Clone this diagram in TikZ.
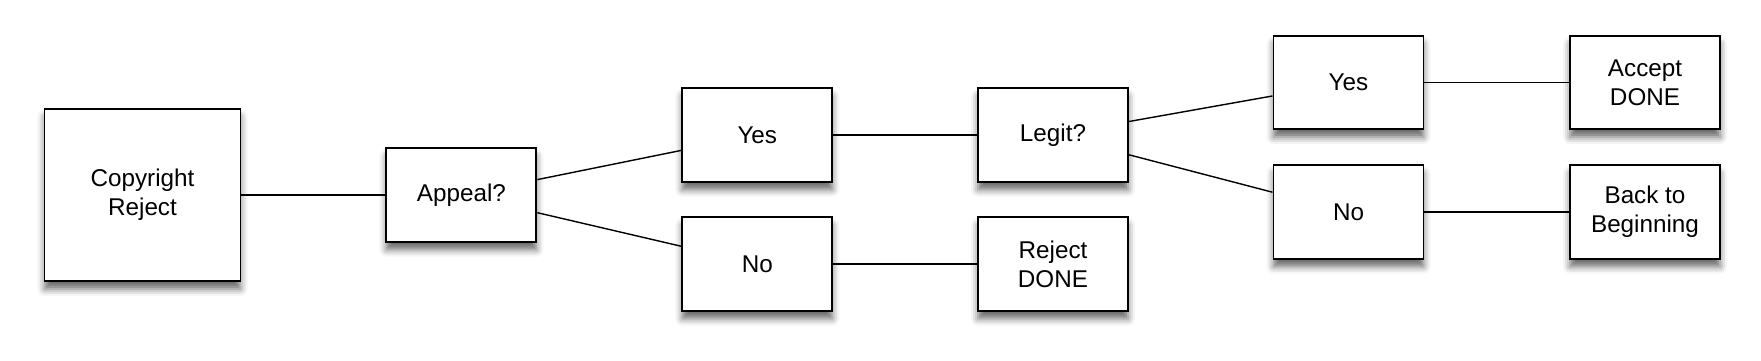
\documentclass[tikz,border=0pt]{standalone}
\usepackage{fontspec}
\setmainfont{Liberation Sans}
\usetikzlibrary{shadows.blur}

\begin{document}
\begin{tikzpicture}[x=0.02cm, y=-0.02cm,
    box/.style={draw, line width=1.1pt, fill=white, align=center,
      minimum width=3cm, minimum height=1.87cm, inner sep=2pt,
      font=\fontsize{13.8}{16.5}\selectfont,
      blur shadow={shadow xshift=0pt, shadow yshift=-4.5pt, shadow blur radius=4pt, shadow opacity=60}},
    link/.style={line width=0.8pt}]
  \useasboundingbox (0,0) rectangle (1761,361);
  \node[box, minimum width=3.92cm, minimum height=3.44cm] (copyright) at (142.5,195) {Copyright\\Reject};
  \node[box] (appeal) at (461.4,195) {Appeal?};
  \node[box] (yes1) at (757.3,135) {Yes};
  \node[box] (no1) at (757.3,264) {No};
  \node[box] (legit) at (1053,135) {Legit?};
  \node[box] (reject) at (1053,264) {Reject\\DONE};
  \node[box] (yes2) at (1348.5,82.5) {Yes};
  \node[box] (no2) at (1348.5,212) {No};
  \node[box] (accept) at (1645,82.5) {Accept\\DONE};
  \node[box] (back) at (1645,212) {Back to\\Beginning};
  \draw[link] (copyright) -- (appeal);
  \draw[link] (appeal) -- (yes1);
  \draw[link] (appeal) -- (no1);
  \draw[link] (yes1) -- (legit);
  \draw[link] (no1) -- (reject);
  \draw[link] (legit) -- (yes2);
  \draw[link] (legit) -- (no2);
  \draw[link] (yes2) -- (accept);
  \draw[link] (no2) -- (back);
\end{tikzpicture}
\end{document}
